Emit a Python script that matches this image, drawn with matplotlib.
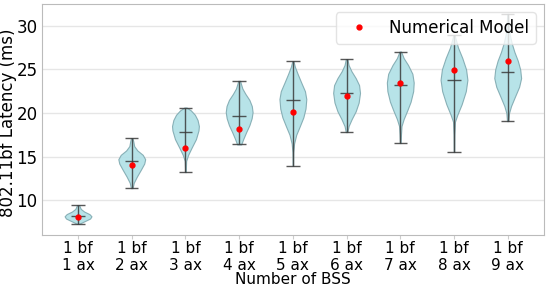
import numpy as np
import matplotlib
matplotlib.use("Agg")
from matplotlib import pyplot as plt

labels = ["1 bf\n%d ax" % i for i in range(1, 10)]
positions = list(range(1, 10))

# simulated latency extrema / median per BSS count (ms)
lat_min = [7.29, 11.38, 13.22, 16.39, 13.94, 17.81, 16.55, 15.52, 19.07]
lat_max = [9.44, 17.12, 20.63, 23.69, 25.91, 26.18, 27.05, 28.93, 31.38]
lat_median = [8.18, 14.44, 17.81, 19.71, 21.48, 22.28, 23.20, 23.77, 24.72]

# numerical model prediction
model = [8.06, 14.06, 15.97, 18.22, 20.10, 21.97, 23.39, 24.95, 26.02]

# violin outlines: latency levels and relative density
shape_y = [
    [7.29, 7.6, 7.9, 8.15, 8.4, 8.7, 9.0, 9.44],
    [11.38, 12.0, 12.7, 13.5, 14.2, 14.7, 15.2, 15.7, 16.2, 16.7, 17.12],
    [13.22, 14.5, 15.2, 16.0, 17.0, 18.0, 18.5, 19.2, 19.8, 20.3, 20.63],
    [16.39, 17.0, 17.8, 18.6, 19.4, 20.1, 20.8, 21.5, 22.2, 22.8, 23.3, 23.69],
    [13.94, 15.5, 16.5, 17.5, 18.5, 19.5, 20.5, 21.6, 22.5, 23.5, 24.5, 25.3, 25.91],
    [17.81, 18.5, 19.3, 20.2, 21.2, 22.3, 23.2, 24.0, 24.8, 25.5, 26.18],
    [16.55, 17.5, 18.5, 19.3, 20.3, 21.3, 22.5, 23.5, 24.5, 25.5, 26.3, 27.05],
    [15.52, 17.5, 19.0, 19.8, 21.0, 22.5, 23.8, 25.0, 26.3, 27.5, 28.5, 28.93],
    [19.07, 20.0, 20.8, 21.8, 23.0, 24.0, 25.0, 26.0, 27.0, 28.0, 29.0, 30.3, 31.38],
]
shape_w = [
    [0.08, 0.5, 0.9, 1.0, 0.85, 0.45, 0.2, 0.08],
    [0.06, 0.15, 0.38, 0.68, 0.93, 1.0, 0.82, 0.42, 0.18, 0.12, 0.06],
    [0.02, 0.05, 0.2, 0.45, 0.78, 0.97, 1.0, 0.9, 0.7, 0.4, 0.08],
    [0.15, 0.3, 0.52, 0.76, 0.93, 1.0, 0.94, 0.76, 0.46, 0.24, 0.14, 0.07],
    [0.02, 0.03, 0.09, 0.25, 0.52, 0.78, 0.94, 1.0, 0.9, 0.62, 0.35, 0.15, 0.05],
    [0.06, 0.15, 0.38, 0.68, 0.9, 1.0, 0.93, 0.68, 0.36, 0.15, 0.06],
    [0.03, 0.05, 0.09, 0.25, 0.52, 0.77, 0.96, 1.0, 0.9, 0.58, 0.25, 0.06],
    [0.02, 0.03, 0.07, 0.25, 0.57, 0.88, 1.0, 0.9, 0.62, 0.3, 0.12, 0.05],
    [0.05, 0.1, 0.25, 0.52, 0.85, 1.0, 0.93, 0.75, 0.5, 0.3, 0.15, 0.07, 0.03],
]

vpstats = []
for i in range(len(positions)):
    vpstats.append({
        "coords": np.array(shape_y[i]),
        "vals": np.array(shape_w[i]),
        "mean": lat_median[i],
        "median": lat_median[i],
        "min": lat_min[i],
        "max": lat_max[i],
        "quantiles": [],
    })

fig = plt.figure(figsize=(5.5, 2.87), dpi=100)
ax = fig.add_axes([0.076, 0.181, 0.913, 0.805])

parts = ax.violin(vpstats, positions=positions, widths=0.5,
                  showextrema=True, showmedians=True)
for b in parts["bodies"]:
    b.set_facecolor("#b0e0e6")
    b.set_edgecolor("#7fa9b0")
    b.set_linewidth(0.8)
    b.set_alpha(0.9)
for k in ["cbars", "cmins", "cmaxes", "cmedians"]:
    parts[k].set_color("#3a3a3a")
    parts[k].set_linewidth(1.0)
    parts[k].set_alpha(0.85)

ax.plot(positions, model, "o", color="red", markersize=3.5,
        label="Numerical Model", zorder=5)

ax.set_ylim(6.0, 32.5)
ax.set_yticks([10, 15, 20, 25, 30])
ax.set_xticks(positions)
ax.set_xticklabels(labels)
ax.tick_params(axis="x", labelsize=11, length=3, color="#cccccc", pad=1)
ax.tick_params(axis="y", labelsize=12, length=0, pad=3)
ax.grid(axis="y", color="#e6e6e6", linewidth=1)
ax.set_axisbelow(True)
for s in ax.spines.values():
    s.set_color("#bbbbbb")

ax.set_xlabel("Number of BSS", fontsize=11, labelpad=-1)
ax.set_ylabel("802.11bf Latency (ms)", fontsize=12)
ax.yaxis.set_label_coords(-0.05, 0.485)

ax.legend(loc="upper right", fontsize=12, framealpha=0.8,
          edgecolor="#dddddd", borderaxespad=0.5)

fig.savefig("out.png", dpi=100)
